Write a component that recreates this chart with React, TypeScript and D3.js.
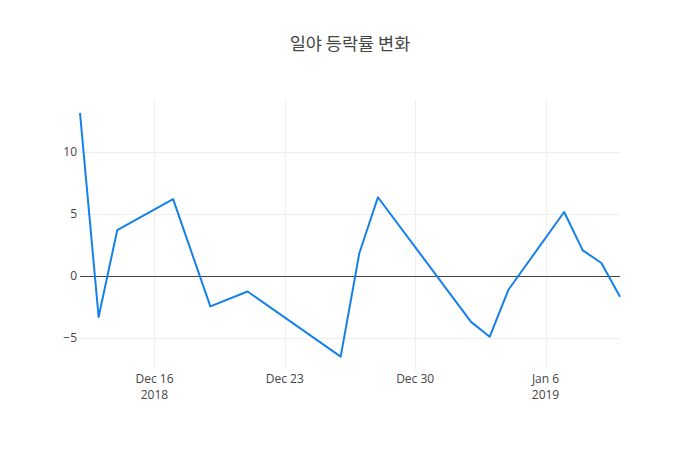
import React from "react";
import * as d3 from "d3";

const dates = [
  "2018-12-12", "2018-12-13", "2018-12-14", "2018-12-17", "2018-12-19",
  "2018-12-21", "2018-12-26", "2018-12-27", "2018-12-28", "2019-01-02",
  "2019-01-03", "2019-01-04", "2019-01-07", "2019-01-08", "2019-01-09",
  "2019-01-10",
];
const values = [13.15, -3.3, 3.7, 6.2, -2.45, -1.25, -6.5, 1.83, 6.35, -3.7, -4.9, -1.13, 5.16, 2.07, 1.05, -1.67];
const yTicks = [-5, 0, 5, 10];
const xTicks = ["2018-12-16", "2018-12-23", "2018-12-30", "2019-01-06"];
const xTickLabels = [["Dec 16", "2018"], ["Dec 23"], ["Dec 30"], ["Jan 6", "2019"]];
const title = "일야 등락률 변화";

export default function App() {
  const W = 700, H = 450;
  const left = 80, right = 620, top = 100, bottom = 370;
  const parse = (s: string) => new Date(s + "T00:00:00Z");
  const data = dates.map((d, i) => ({ x: parse(d), y: values[i] }));
  const x = d3.scaleUtc().domain([parse(dates[0]), parse(dates[dates.length - 1])]).range([left, right]);
  const y = d3.scaleLinear().domain([-7.58, 14.19]).range([bottom, top]);
  const line = d3.line<{ x: Date; y: number }>().x((d) => x(d.x)).y((d) => y(d.y));
  const font = "'Open Sans', 'Noto Sans', sans-serif";
  const crisp = (v: number) => Math.round(v) + 0.5;
  return (
    <svg width={W} height={H} style={{ position: "absolute", left: 0, top: 0, background: "#fff" }}>
      <rect x={0} y={0} width={W} height={H} fill="#fff" />
      {xTicks.map((t) => (
        <line key={t} x1={crisp(x(parse(t)))} x2={crisp(x(parse(t)))} y1={top} y2={bottom} stroke="#eee" strokeWidth={1} />
      ))}
      {yTicks.filter((t) => t !== 0).map((t) => (
        <line key={t} x1={left} x2={right} y1={crisp(y(t))} y2={crisp(y(t))} stroke="#eee" strokeWidth={1} />
      ))}
      <line x1={left} x2={right} y1={crisp(y(0))} y2={crisp(y(0))} stroke="#444" strokeWidth={1} />
      <path d={line(data) || ""} fill="none" stroke="#1580E8" strokeWidth={2} strokeLinejoin="round" />
      {yTicks.map((t) => (
        <text key={t} x={left - 3} y={y(t)} dy="0.35em" textAnchor="end" fontFamily={font} fontSize={12} fill="#444">
          {t < 0 ? "\u2212" + Math.abs(t) : t}
        </text>
      ))}
      {xTicks.map((t, i) => (
        <text key={t} x={x(parse(t))} y={bottom + 13} textAnchor="middle" fontFamily={font} fontSize={12} fill="#444">
          {xTickLabels[i].map((s, j) => (
            <tspan key={j} x={x(parse(t))} dy={j === 0 ? "0" : "16"}>{s}</tspan>
          ))}
        </text>
      ))}
      <text x={350} y={50} textAnchor="middle" fontFamily="'Noto Sans CJK KR', 'Open Sans', sans-serif" fontSize={17.5} fill="#444">
        {title}
      </text>
    </svg>
  );
}
